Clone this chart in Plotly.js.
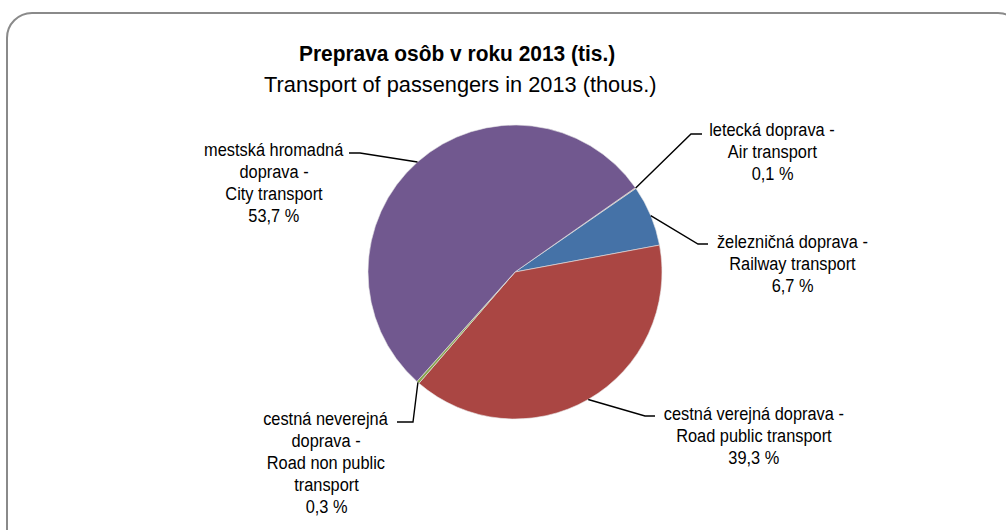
<!DOCTYPE html>
<html><head><meta charset="utf-8">
<script src="https://cdn.plot.ly/plotly-3.0.1.min.js"></script>
<style>
html,body{margin:0;padding:0;background:#fff;overflow:hidden}
#frame{position:absolute;left:6px;top:12px;width:1018px;height:560px;border:2px solid #8a8a8a;border-radius:26px;box-sizing:border-box}
#chart{position:absolute;left:0;top:0;width:1006px;height:530px}
text.annotation-text{transform-box:fill-box;transform-origin:center}
</style></head>
<body>
<div id="frame"></div>
<div id="chart"></div>
<script>
// Data
const categoriesSk = [["letecká doprava -"], ["železničná doprava -"], ["cestná verejná doprava -"], ["cestná neverejná", "doprava -"], ["mestská hromadná", "doprava -"]];
const categoriesEn = [["Air transport"], ["Railway transport"], ["Road public transport"], ["Road non public", "transport"], ["City transport"]];
const shares = [0.1, 6.7, 39.3, 0.3, 53.7];
const colors = ["#DB843D", "#4572A7", "#AA4643", "#89A54E", "#71588F"];
const titleLines = ["Preprava osôb v roku 2013 (tis.)", "Transport of passengers in 2013 (thous.)"];

const W = 1006, H = 530;
const cx = 515, cy = 272, R = 147;
const rotation = 55;
const px = x => x / W;
const py = y => 1 - y / H;
const FONT = '"Liberation Sans", Arial, sans-serif';

// label placement (layout)
const labelPos = [
  {x: 772, y: 130, elbow: [691, 134], end: [702, 134]},
  {x: 792, y: 241, elbow: [698, 244], end: [708, 244]},
  {x: 754, y: 413, elbow: [645, 416], end: [655, 416]},
  {x: 326, y: 418, elbow: [413, 422], end: [397, 422]},
  {x: 274, y: 149, elbow: [360, 153], end: [349, 153]}
];
const lineStep = 22;

const total = shares.reduce((a, b) => a + b, 0);
let cum = 0;
const annotations = [];
const scales = [];
const shapes = [];
shares.forEach((v, i) => {
  const mid = rotation + (cum + v / 2) / total * 360;
  cum += v;
  const a = mid * Math.PI / 180;
  const ex = cx + R * Math.sin(a), ey = cy - R * Math.cos(a);
  const L = labelPos[i];
  shapes.push({
    type: 'path', xref: 'paper', yref: 'paper',
    path: `M ${px(ex)} ${py(ey)} L ${px(L.elbow[0])} ${py(L.elbow[1])} L ${px(L.end[0])} ${py(L.end[1])}`,
    line: {color: '#000', width: 1.4}
  });
  const lines = categoriesSk[i].concat(categoriesEn[i], [String(v).replace('.', ',') + ' %']);
  lines.forEach((t, k) => {
    annotations.push({
      xref: 'paper', yref: 'paper', x: px(L.x), y: py(L.y + k * lineStep),
      xanchor: 'center', yanchor: 'middle', showarrow: false,
      text: t,
      font: {family: FONT, size: 18.5, color: '#000'}
    });
    scales.push(0.885);
  });
});

annotations.push({
  xref: 'paper', yref: 'paper', x: px(457), y: py(54), xanchor: 'center', yanchor: 'middle', showarrow: false,
  text: '<b>' + titleLines[0] + '</b>',
  font: {family: FONT, size: 22.5, color: '#000'}
});
scales.push(0.93);
annotations.push({
  xref: 'paper', yref: 'paper', x: px(460.5), y: py(85), xanchor: 'center', yanchor: 'middle', showarrow: false,
  text: titleLines[1],
  font: {family: FONT, size: 22, color: '#000'}
});
scales.push(0.99);

const data = [{
  type: 'pie',
  values: shares,
  labels: categoriesEn.map(l => l.join(' ')),
  sort: false,
  direction: 'clockwise',
  rotation: rotation,
  marker: {colors: colors, line: {color: '#e8e8e8', width: 0.6}},
  textinfo: 'none',
  hoverinfo: 'label+percent',
  showlegend: false,
  domain: {x: [(cx - R) / W, (cx + R) / W], y: [1 - (cy + R) / H, 1 - (cy - R) / H]}
}];

const layout = {
  width: W, height: H,
  margin: {l: 0, r: 0, t: 0, b: 0},
  paper_bgcolor: 'rgba(0,0,0,0)',
  plot_bgcolor: 'rgba(0,0,0,0)',
  showlegend: false,
  annotations: annotations,
  shapes: shapes
};

Plotly.newPlot('chart', data, layout, {displayModeBar: false, staticPlot: true}).then(() => {
  document.querySelectorAll('#chart g.annotation').forEach(g => {
    const idx = +g.getAttribute('data-index');
    const t = g.querySelector('text.annotation-text');
    if (t && scales[idx]) t.style.transform = 'scaleX(' + scales[idx] + ')';
  });
});
</script>
</body></html>
